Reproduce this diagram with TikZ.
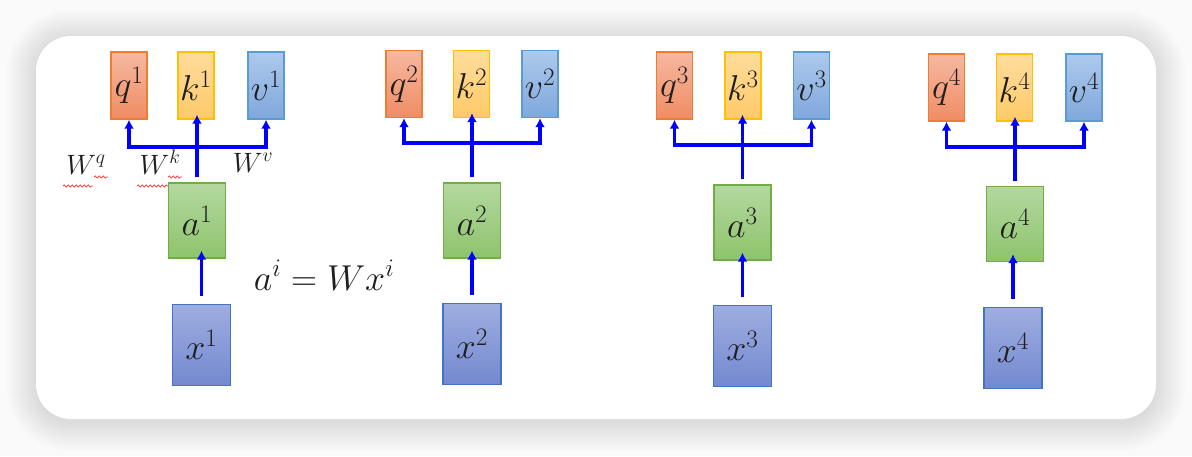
\RequirePackage{fix-cm}
\documentclass[tikz,border=0pt]{standalone}
\usetikzlibrary{arrows.meta,decorations.pathmorphing}
\definecolor{bgc}{HTML}{FAFAFA}
\definecolor{qtop}{HTML}{F6B8A0}\definecolor{qbot}{HTML}{F08C64}\definecolor{qdraw}{HTML}{ED7D31}
\definecolor{ktop}{HTML}{FFDC9C}\definecolor{kbot}{HTML}{FFCA68}\definecolor{kdraw}{HTML}{FFC000}
\definecolor{vtop}{HTML}{ADC9EC}\definecolor{vbot}{HTML}{80A8DC}\definecolor{vdraw}{HTML}{5B9BD5}
\definecolor{atop}{HTML}{B4D8A0}\definecolor{abot}{HTML}{8EC46C}\definecolor{adraw}{HTML}{70AD47}
\definecolor{xtop}{HTML}{9EAEE0}\definecolor{xbot}{HTML}{7488D0}\definecolor{xdraw}{HTML}{4472C4}
\definecolor{txt}{HTML}{1E1E1E}
\tikzset{
  lbl/.style={font=\fontsize{36}{40}\selectfont, text=txt, inner sep=0pt},
  tbox/.style={lbl, minimum width=36pt, minimum height=67pt, line width=1.4pt},
  qbox/.style={tbox, draw=qdraw, top color=qtop, bottom color=qbot},
  kbox/.style={tbox, draw=kdraw, top color=ktop, bottom color=kbot},
  vbox/.style={tbox, draw=vdraw, top color=vtop, bottom color=vbot},
  abox/.style={lbl, minimum width=57pt, minimum height=75pt, line width=1.4pt, draw=adraw, top color=atop, bottom color=abot},
  xbox/.style={lbl, minimum width=58pt, minimum height=81pt, line width=1.4pt, draw=xdraw, top color=xtop, bottom color=xbot},
  conn/.style={draw=blue, line width=3.3pt, -{Latex[length=9pt,width=10pt]}},
  wlbl/.style={font=\fontsize{28}{30}\selectfont, text=txt, inner sep=0pt, anchor=base},
  squig/.style={draw=red!80, line width=0.7pt, decorate, decoration={snake, amplitude=1.1pt, segment length=4pt}}
}
\newcommand{\qkvgroup}[9]{%
  \node[qbox] (q#1) at (#2,#5) {$q^{#1}$};
  \node[kbox] (k#1) at (#3,#5) {$k^{#1}$};
  \node[vbox] (v#1) at (#4,#5) {$v^{#1}$};
  \node[abox] (a#1) at (#6,#7) {$a^{#1}$};
  \node[xbox] (x#1) at (#8,#9) {$x^{#1}$};
  \draw[conn] ([yshift=8pt]x#1.north) -- ([yshift=8pt]x#1.north |- a#1.south);
}
\newcommand{\qkvbar}[2]{%
  \coordinate (j#1) at ([yshift=5pt]a#1.north |- 0,#2);
  \draw[conn] ([yshift=5pt]a#1.north) -- ([yshift=5pt]a#1.north |- k#1.south);
  \draw[conn] (j#1) -| (q#1.south);
  \draw[conn] (j#1) -| (v#1.south);
}
\begin{document}
\begin{tikzpicture}[x=1pt,y=-1pt]
\useasboundingbox (0,0) rectangle (1192,456);
\fill[bgc] (0,0) rectangle (1192,456);
\foreach \e in {30,29,...,1}{
  \fill[black, opacity=0.0045, rounded corners={35pt+\e pt}] (36-\e,36-\e+3) rectangle (1156+\e,419+\e+3);
}
\fill[white, rounded corners=35pt] (36,36) rectangle (1156,419);

\qkvgroup{1}{129}{196}{266}{85.5}{197}{220.5}{201.5}{345}
\qkvgroup{2}{404}{471.5}{540}{84}{472}{220.5}{472}{344}
\qkvgroup{3}{674.5}{743}{811.5}{85.5}{742.5}{222.5}{742.5}{346}
\qkvgroup{4}{946.5}{1014.5}{1084}{87.5}{1015}{224}{1013}{348}
\qkvbar{1}{152}
\qkvbar{2}{148}
\qkvbar{3}{150}
\qkvbar{4}{152}

\node[lbl, anchor=base] (eq) at (324,290) {$a^i = Wx^i$};

\node[wlbl] (wq) at (86,174) {$W^q$};
\node[wlbl] (wk) at (160,174) {$W^k$};
\node[wlbl] (wv) at (253,172) {$W^v$};
\draw[squig] (63,186) -- (93,186);
\draw[squig] (94,177) -- (108,177);
\draw[squig] (137,186) -- (168,186);
\draw[squig] (168,177) -- (182,177);
\end{tikzpicture}
\end{document}
